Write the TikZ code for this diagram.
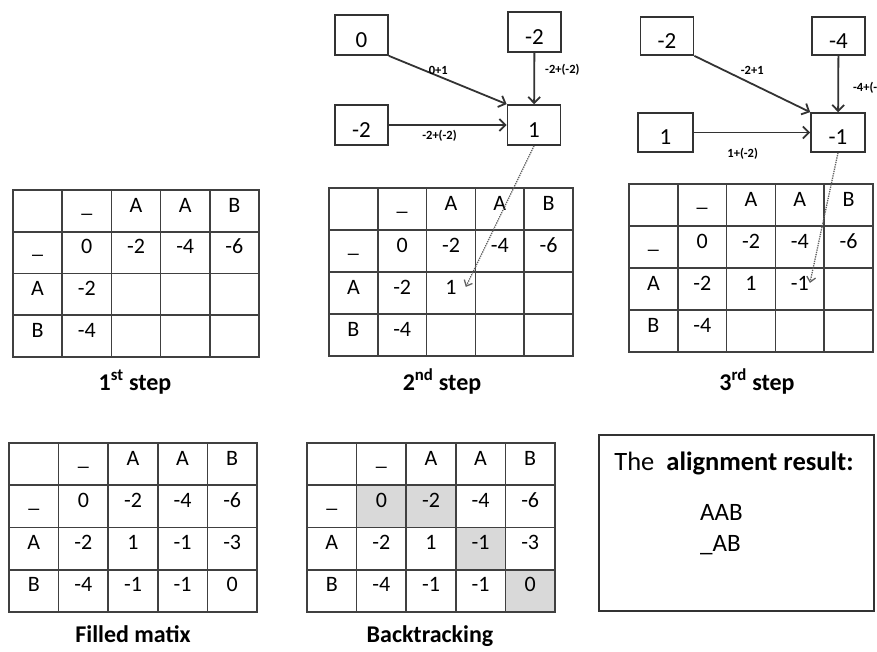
\documentclass[tikz,border=0pt]{standalone}
\usepackage{fontspec}
\setmainfont{Carlito}
\usetikzlibrary{arrows.meta,positioning}

\begin{document}
\begin{tikzpicture}[
        x=1pt,
        y=-1pt,
        rule/.style={draw=black!75, line width=1.7pt, line cap=rect},
        cell/.style={anchor=base, inner sep=1pt, font=\fontsize{22}{26}\selectfont},
        valbox/.style={draw=black!80, line width=1.7pt, minimum width=53pt, minimum height=40pt,
            text height=24pt, text depth=0pt, font=\fontsize{23}{27}\selectfont},
        flow/.style={draw=black!80, line width=1.8pt, -{Straight Barb[length=6pt,width=12pt]}},
        trace/.style={draw=black!62, densely dotted, line width=1.3pt, -{Straight Barb[length=5pt,width=9pt]}},
        sum/.style={inner sep=1pt, font=\bfseries\fontsize{12.5}{14}\selectfont},
        caption/.style={anchor=base, font=\bfseries\fontsize{24}{28}\selectfont},
        hit/.style={fill=black!15}
    ]
        \useasboundingbox (0,0) rectangle (877,651);

        % shaded path of the backtracking table
        \foreach \r/\c in {1/1,1/2,2/3,3/4}
            \fill[hit] (307+\c*49.6,443+\r*42.25) rectangle ++(49.6,42.25);

        % the five score tables
        \foreach \tname/\tx/\ty/\cw/\rh in {
            t1/13/190/49.2/41.75,
            t2/329/188/48.8/42,
            t3/629/184/48.8/42,
            fm/9/443/49.6/42.25,
            bt/307/443/49.6/42.25
        }{
            \begin{scope}[shift={(\tx,\ty)}]
                \foreach \i in {0,...,5}
                    \draw[rule] (\i*\cw,0) -- (\i*\cw,4*\rh);
                \foreach \j in {0,...,4}
                    \draw[rule] (0,\j*\rh) -- (5*\cw,\j*\rh);
                \foreach \c/\txt in {1/\_,2/A,3/A,4/B}
                    \node[cell] (\tname-0-\c) at ({(\c+.5)*\cw},22) {\txt};
                \foreach \r/\txt in {1/\_,2/A,3/B}
                    \node[cell] (\tname-\r-0) at (.5*\cw,\r*\rh+22) {\txt};
                \foreach \c/\txt in {1/0,2/-2,3/-4,4/-6}
                    \node[cell] (\tname-1-\c) at ({(\c+.5)*\cw},\rh+22) {\txt};
                \foreach \r/\txt in {2/-2,3/-4}
                    \node[cell] (\tname-\r-1) at (1.5*\cw,\r*\rh+22) {\txt};
            \end{scope}
        }

        \foreach \tname/\r/\c/\txt in {
            t2/2/2/1,
            t3/2/2/1, t3/2/3/-1,
            fm/2/2/1, fm/2/3/-1, fm/2/4/-3, fm/3/2/-1, fm/3/3/-1, fm/3/4/0,
            bt/2/2/1, bt/2/3/-1, bt/2/4/-3, bt/3/2/-1, bt/3/3/-1, bt/3/4/0
        }
            \node[cell] (\tname-\r-\c) at (\tname-0-\c.base |- \tname-\r-0.base) {\txt};

        % second step
        \node[valbox] (m-diag) at (361.5,35) {0};
        \node[valbox] (m-up) at (534.5,32) {-2};
        \node[valbox] (m-left) at (361.5,125) {-2};
        \node[valbox] (m-new) at (534,125) {1};

        \draw[flow] (m-diag.south east) -- (m-new.north west)
            node[sum, pos=.42, yshift=6pt] {0+1};
        \draw[flow] (m-up) -- (m-new)
            node[sum, pos=.34, right=9pt] {-2+(-2)};
        \draw[flow] (m-left) -- (m-new)
            node[sum, pos=.43, below=3pt] {-2+(-2)};

        % third step
        \node[valbox, minimum height=38pt] (r-diag) at (667,36) {-2};
        \node[valbox, minimum height=38pt] (r-up) at (838.5,36) {-4};
        \node[valbox, minimum height=39pt, minimum width=55pt] (r-left) at (665.5,132.5) {1};
        \node[valbox, minimum height=39pt, minimum width=54pt] (r-new) at (838,132.5) {-1};

        \draw[flow] (r-diag.south east) -- (r-new.north west)
            node[sum, pos=.5, above=8pt] {-2+1};
        \draw[flow] (r-up) -- (r-new)
            node[sum, pos=.57, right=13pt] {-4+(-2)};
        \draw[flow] (r-left) -- (r-new)
            node[sum, pos=.42, below=14pt] {1+(-2)};

        \draw[trace] (m-new.south) -- ([xshift=8pt]t2-2-2.east);
        \draw[trace] (r-new.south) -- (t3-2-3.east);

        \node[caption] (cap1) at (135,390) {1\textsuperscript{st} step};
        \node[caption] (cap2) at (442,390) {2\textsuperscript{nd} step};
        \node[caption] (cap3) at (757,390) {3\textsuperscript{rd} step};
        \node[caption] (cap4) at (133,642) {Filled matix};
        \node[caption] (cap5) at (430,642) {Backtracking};

        % result
        \draw[draw=black!80, line width=1.7pt] (599,435) rectangle (874,611);
        \node[anchor=base, font=\fontsize{26.5}{30}\selectfont] (title) at (734,470) {The~ \textbf{alignment result:}};
        \node[anchor=base west, inner sep=0pt, font=\fontsize{25}{29}\selectfont] (seq1) at (700,520) {AAB};
        \node[anchor=base west, inner sep=0pt, font=\fontsize{25}{29}\selectfont] (seq2) at (700,551) {\_AB};
    \end{tikzpicture}
\end{document}
